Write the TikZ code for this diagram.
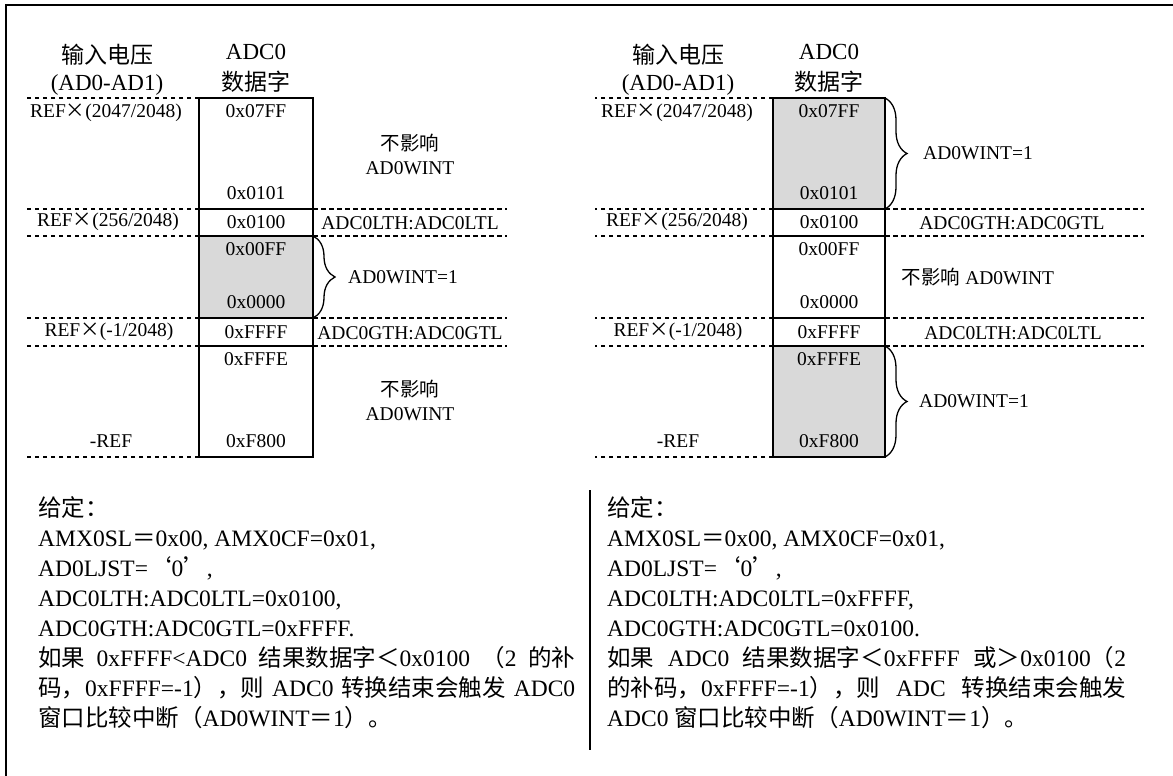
\documentclass[tikz,border=0pt]{standalone}
\usepackage{fontspec}
\setmainfont{Liberation Serif}
\newfontfamily\cjk{Noto Sans CJK SC}
\usetikzlibrary{decorations.pathreplacing}
\definecolor{hit}{RGB}{217,217,217}
\newcommand{\zh}[1]{{\cjk #1}}
\newcommand{\lblfont}{\fontsize{19.5}{24}\selectfont}
\newcommand{\headfont}{\fontsize{23}{28}\selectfont}
\newcommand{\bodyfont}{\fontsize{23.5}{30}\selectfont}
\tikzstyle{cell} = [draw, line width=1.3pt, minimum width=114pt, inner sep=0pt, outer sep=0pt, anchor=north]
\tikzstyle{level} = [dash pattern=on 4.5pt off 3.5pt, line width=1.2pt]
\tikzstyle{lbl} = [inner sep=0pt, font=\lblfont, align=center]
\tikzstyle{head} = [inner sep=0pt, font=\headfont]
\tikzstyle{brc} = [decorate, decoration={brace, amplitude=22pt}, line width=1.3pt]

\begin{document}
\begin{tikzpicture}[x=1pt, y=-1pt]
	\useasboundingbox (0,0) rectangle (1173,776);
	\draw[line width=2pt] (6,776) -- (6,5) -- (1173,5);

	% left: window inside
	\node[cell, minimum height=111pt] (lA) at (256,98) {};
	\node[cell, minimum height=27pt] (lB) at (lA.south) {};
	\node[cell, fill=hit, minimum height=82pt] (lC) at (lB.south) {};
	\node[cell, minimum height=28pt] (lD) at (lC.south) {};
	\node[cell, minimum height=111pt] (lE) at (lD.south) {};
	\foreach \c in {lA.north west, lB.north west, lC.north west, lD.north west, lE.north west, lE.south west}
		\draw[level] (\c) -- ++(-176,0);
	\foreach \c in {lB.north east, lC.north east, lD.north east, lE.north east}
		\draw[level] (\c) -- ++(194,0);
	\node[head] (lVin) at (107,55) {\zh{输入电压}};
	\node[head] (lVinR) at (107,85) {(AD0-AD1)};
	\node[head] (lCode) at (256,52) {ADC0};
	\node[head] (lCodeR) at (256,82) {\zh{数据字}};
	\node[lbl] (lRefA) at (106,113) {REF\zh{×}(2047/2048)};
	\node[lbl] (lRefB) at (108,222) {REF\zh{×}(256/2048)};
	\node[lbl] (lRefC) at (109,332) {REF\zh{×}(-1/2048)};
	\node[lbl] (lRefD) at (111,441) {-REF};
	\foreach \y/\t in {111/0x07FF, 193/0x0101, 222/0x0100, 249/0x00FF, 302/0x0000, 332/0xFFFF, 359/0xFFFE, 441/0xF800}
		\node[lbl] (lv\y) at (256,\y) {\t};
	\node[lbl] (lNoA) at (410,154) {\zh{不影响}\\AD0WINT};
	\node[lbl] (lLow) at (410,223) {ADC0LTH:ADC0LTL};
	\node[lbl] (lHigh) at (410,333) {ADC0GTH:ADC0GTL};
	\node[lbl] (lNoB) at (410,400) {\zh{不影响}\\AD0WINT};
	\draw[brc] (lC.north east) -- (lC.south east);
	\node[lbl, anchor=west] (lHit) at ([xshift=35]lC.east) {AD0WINT=1};

	% right: window outside
	\node[cell, fill=hit, minimum width=112pt, minimum height=111pt] (rA) at (829,98) {};
	\node[cell, minimum width=112pt, minimum height=27pt] (rB) at (rA.south) {};
	\node[cell, minimum width=112pt, minimum height=82pt] (rC) at (rB.south) {};
	\node[cell, minimum width=112pt, minimum height=28pt] (rD) at (rC.south) {};
	\node[cell, fill=hit, minimum width=112pt, minimum height=111pt] (rE) at (rD.south) {};
	\foreach \c in {rA.north west, rB.north west, rC.north west, rD.north west, rE.north west, rE.south west}
		\draw[level] (\c) -- ++(-178,0);
	\foreach \c in {rB.north east, rC.north east, rD.north east, rE.north east}
		\draw[level] (\c) -- ++(259,0);
	\node[head] (rVin) at (678,55) {\zh{输入电压}};
	\node[head] (rVinR) at (678,85) {(AD0-AD1)};
	\node[head] (rCode) at (829,52) {ADC0};
	\node[head] (rCodeR) at (829,82) {\zh{数据字}};
	\node[lbl] (rRefA) at (677,113) {REF\zh{×}(2047/2048)};
	\node[lbl] (rRefB) at (677,222) {REF\zh{×}(256/2048)};
	\node[lbl] (rRefC) at (678,332) {REF\zh{×}(-1/2048)};
	\node[lbl] (rRefD) at (678,441) {-REF};
	\foreach \y/\t in {111/0x07FF, 193/0x0101, 222/0x0100, 249/0x00FF, 302/0x0000, 332/0xFFFF, 359/0xFFFE, 441/0xF800}
		\node[lbl] (rv\y) at (829,\y) {\t};
	\node[lbl] (rHigh) at (1012,223) {ADC0GTH:ADC0GTL};
	\node[lbl] (rNo) at (978,277) {\zh{不影响} AD0WINT};
	\node[lbl] (rLow) at (1013,333) {ADC0LTH:ADC0LTL};
	\draw[brc] (rA.north east) -- (rA.south east);
	\draw[brc] (rE.north east) -- (rE.south east);
	\node[lbl, anchor=west] (rHitA) at ([xshift=38]rA.east) {AD0WINT=1};
	\node[lbl, anchor=west] (rHitB) at ([xshift=34]rE.east) {AD0WINT=1};

	% notes
	\node[anchor=north west, inner sep=0pt] (lGiven) at (38,496) {%
		\begin{minipage}{537pt}
		\bodyfont
		\zh{给定：}\\
		AMX0SL\zh{＝}0x00, AMX0CF=0x01,\\
		AD0LJST=\zh{‘}0\zh{’},\\
		ADC0LTH:ADC0LTL=0x0100,\\
		ADC0GTH:ADC0GTL=0xFFFF.\\
		\zh{如果} 0xFFFF<ADC0 \zh{结果数据字＜}0x0100 \zh{（}2 \zh{的补}\linebreak
		\zh{码，}0xFFFF=-1\zh{），则} ADC0 \zh{转换结束会触发} ADC0\linebreak
		\zh{窗口比较中断（}AD0WINT\zh{＝}1\zh{）。}
		\end{minipage}
	};
	\node[anchor=north west, inner sep=0pt] (rGiven) at (607,496) {%
		\begin{minipage}{519pt}
		\bodyfont
		\zh{给定：}\\
		AMX0SL\zh{＝}0x00, AMX0CF=0x01,\\
		AD0LJST=\zh{‘}0\zh{’},\\
		ADC0LTH:ADC0LTL=0xFFFF,\\
		ADC0GTH:ADC0GTL=0x0100.\\
		\zh{如果} ADC0 \zh{结果数据字＜}0xFFFF \zh{或＞}0x0100\zh{（}2\linebreak
		\zh{的补码，}0xFFFF=-1\zh{），则} ADC \zh{转换结束会触发}\linebreak
		ADC0 \zh{窗口比较中断（}AD0WINT\zh{＝}1\zh{）。}
		\end{minipage}
	};
	\draw[line width=1.5pt] (590,490) -- (590,750);
\end{tikzpicture}
\end{document}
